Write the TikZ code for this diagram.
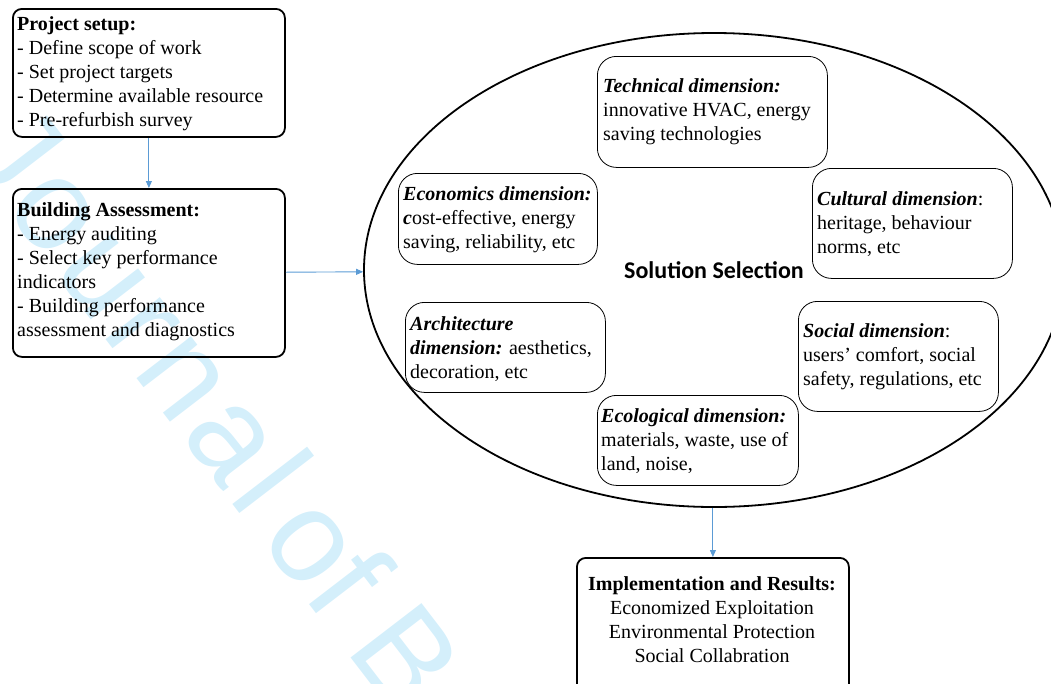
\documentclass[tikz,border=0pt]{standalone}
\usepackage{fontspec}
\setmainfont{Liberation Serif}
\newfontfamily\calibrifont{Carlito}
\newfontfamily\markfont{Liberation Sans}
\usetikzlibrary{shapes.geometric,arrows.meta}

\definecolor{linkblue}{RGB}{91,155,213}
\definecolor{markcyan}{RGB}{212,239,251}

% left-aligned block whose reference point is the first baseline
\newcommand{\leftlines}[1]{\begin{tabular}[t]{@{}l@{}}#1\end{tabular}}
\newcommand{\centerlines}[1]{\begin{tabular}[t]{@{}c@{}}#1\end{tabular}}
\newcommand{\dimhead}[1]{\textbf{\textit{#1}}}
\newcommand{\tr}{\kern7pt}

\begin{document}
\begin{tikzpicture}[x=1pt,y=-1pt,
  font=\fontsize{20}{24}\selectfont,
  stagebox/.style={draw, line width=1.8pt, rounded corners=9pt, inner sep=0pt, anchor=north west},
  dimbox/.style={draw, line width=0.8pt, rounded corners=19pt, inner sep=0pt, anchor=north west},
  boxtext/.style={inner sep=0pt, anchor=base west},
  flow/.style={draw=linkblue, line width=0.9pt, -{Triangle[length=7pt,width=6pt]}}]

\useasboundingbox (0,0) rectangle (1051,683);
\clip (0,0) rectangle (1051,683);

% journal mark in the background
\node[rotate=-52.5, anchor=base west, inner sep=0pt, text=markcyan,
      font=\markfont\fontsize{130}{130}\selectfont] (mark) at (-40,149)
      {J\tr o\tr u\tr r\tr n\tr a\tr l\kern-14pt\ of\kern-4pt\ B};

% project stages on the left
\node[stagebox, minimum width=272pt, minimum height=128pt] (setup) at (12,8) {};
\node[boxtext] (setuptxt) at (17,30) {\leftlines{\textbf{Project setup:}\\
  - Define scope of work\\
  - Set project targets\\
  - Determine available resource\\
  - Pre-refurbish survey}};

\node[stagebox, minimum width=272pt, minimum height=168pt] (assess) at (12,188) {};
\node[boxtext] (assesstxt) at (17,216) {\leftlines{\textbf{Building Assessment:}\\
  - Energy auditing\\
  - Select key performance\\
  indicators\\
  - Building performance\\
  assessment and diagnostics}};

% solution selection with its six dimensions
\node[draw, ellipse, line width=1.8pt, minimum width=700pt, minimum height=474pt, inner sep=0pt,
      font=\calibrifont\bfseries\fontsize{24}{28}\selectfont] (sel) at (714,270) {Solution Selection};

\node[dimbox, minimum width=230pt, minimum height=111pt] (tech) at (597,56) {};
\node[boxtext] (techtxt) at (603,92) {\leftlines{\dimhead{Technical dimension:}\\
  innovative HVAC, energy\\
  saving technologies}};

\node[dimbox, minimum width=199pt, minimum height=91pt] (econ) at (398,173) {};
\node[boxtext] (econtxt) at (403,200) {\leftlines{\dimhead{Economics dimension:}\\
  \dimhead{c}ost-effective, energy\\
  saving, reliability, etc}};

\node[dimbox, minimum width=200pt, minimum height=110pt] (cult) at (812,168) {};
\node[boxtext] (culttxt) at (817,205) {\leftlines{\dimhead{Cultural dimension}:\\
  heritage, behaviour\\
  norms, etc}};

\node[dimbox, minimum width=200pt, minimum height=90pt] (arch) at (405,302) {};
\node[boxtext] (archtxt) at (410,330) {\leftlines{\dimhead{Architecture}\\
  \dimhead{dimension:} aesthetics,\\
  decoration, etc}};

\node[dimbox, minimum width=200pt, minimum height=110pt] (soc) at (798,301) {};
\node[boxtext] (soctxt) at (803,337) {\leftlines{\dimhead{Social dimension}:\\
  users’ comfort, social\\
  safety, regulations, etc}};

\node[dimbox, minimum width=201pt, minimum height=90pt] (eco) at (597,395) {};
\node[boxtext] (ecotxt) at (601,422) {\leftlines{\dimhead{Ecological dimension:}\\
  materials, waste, use of\\
  land, noise,}};

% outcome
\node[stagebox, minimum width=272pt, minimum height=140pt] (impl) at (576,557) {};
\node[inner sep=0pt, anchor=base] (impltxt) at (712,590) {\centerlines{\textbf{Implementation and Results:}\\
  Economized Exploitation\\
  Environmental Protection\\
  Social Collabration}};

% flow between stages
\draw[flow] (setup) -- (assess);
\draw[flow] (assess) -- (sel);
\draw[flow] (sel.south -| impl.north) -- (impl);
\end{tikzpicture}
\end{document}
